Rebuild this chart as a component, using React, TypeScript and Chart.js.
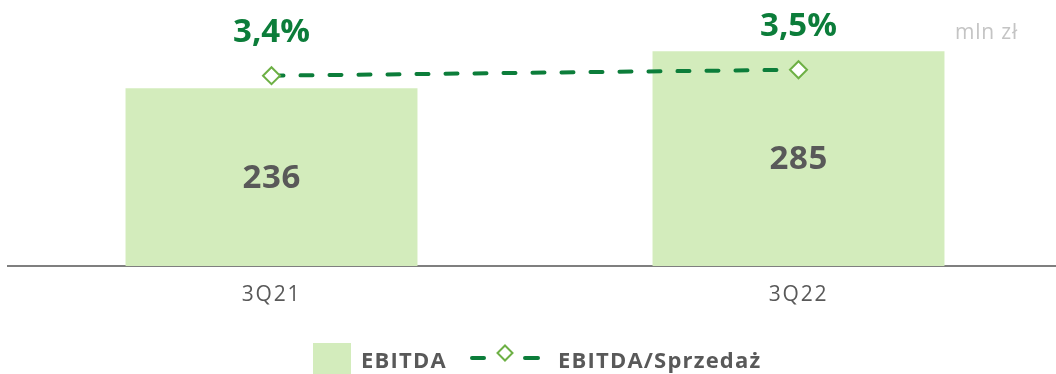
import React, { useEffect, useRef } from "react";
import { Chart, registerables } from "chart.js";

Chart.register(...registerables);

// Quarterly EBITDA (mln zł) and EBITDA margin on sales (%)
const categories: string[] = ["3Q21", "3Q22"];
const ebitdaValues: number[] = [236, 285];
const marginValues: number[] = [3.4, 3.5];
const marginLabels: string[] = ["3,4%", "3,5%"];

const BAR_GREEN = "#D3ECBC";
const DARK_GREEN = "#0C7D3A";
const MARKER_GREEN = "#6DB045";
const TEXT_GRAY = "#595959";
const FONT = "'Open Sans', 'Noto Sans', sans-serif";

// draws text with given letter spacing, centred on the visible glyphs
function spacedText(ctx: any, text: string, x: number, y: number, spacing: number, align: string) {
  ctx.letterSpacing = `${spacing}px`;
  ctx.textAlign = align;
  const shift = align === "center" ? spacing / 2 : 0;
  ctx.fillText(text, x + shift, y);
  ctx.letterSpacing = "0px";
}

const overlayPlugin = {
  id: "overlayLabels",
  beforeDraw(chart: any) {
    // slightly wider tracking for the category tick labels
    chart.ctx.letterSpacing = "1.8px";
  },
  afterDatasetsDraw(chart: any) {
    const ctx = chart.ctx;
    ctx.save();
    ctx.textBaseline = "middle";

    // value inside each bar
    const barMeta = chart.getDatasetMeta(0);
    ctx.font = `bold 33px ${FONT}`;
    ctx.fillStyle = TEXT_GRAY;
    barMeta.data.forEach((bar: any, i: number) => {
      const mid = (bar.y + bar.base) / 2;
      spacedText(ctx, String(ebitdaValues[i]), bar.x, mid + 1, 0.6, "center");
    });

    // margin labels above the markers
    const lineMeta = chart.getDatasetMeta(1);
    ctx.font = `bold 33px ${FONT}`;
    ctx.fillStyle = DARK_GREEN;
    lineMeta.data.forEach((pt: any, i: number) => {
      spacedText(ctx, marginLabels[i], pt.x, pt.y - 43, 0, "center");
    });

    // unit note
    ctx.font = `21px ${FONT}`;
    ctx.fillStyle = "#C4C4C4";
    spacedText(ctx, "mln zł", 955, 33, 0.8, "left");

    // legend
    const legendY = 362;
    ctx.fillStyle = BAR_GREEN;
    ctx.fillRect(313, 343, 38, 31);
    ctx.font = `bold 22px ${FONT}`;
    ctx.fillStyle = TEXT_GRAY;
    spacedText(ctx, "EBITDA", 361, legendY, 1.2, "left");

    ctx.strokeStyle = DARK_GREEN;
    ctx.lineWidth = 4;
    ctx.lineCap = "round";
    ctx.beginPath();
    ctx.moveTo(472, 358);
    ctx.lineTo(484, 358);
    ctx.moveTo(525, 358);
    ctx.lineTo(538, 358);
    ctx.stroke();

    ctx.beginPath();
    const cx = 505, cy = 353, r = 7.5;
    ctx.moveTo(cx, cy - r);
    ctx.lineTo(cx + r, cy);
    ctx.lineTo(cx, cy + r);
    ctx.lineTo(cx - r, cy);
    ctx.closePath();
    ctx.fillStyle = "#ffffff";
    ctx.fill();
    ctx.strokeStyle = MARKER_GREEN;
    ctx.lineWidth = 2;
    ctx.lineCap = "butt";
    ctx.stroke();

    ctx.fillStyle = TEXT_GRAY;
    spacedText(ctx, "EBITDA/Sprzedaż", 558, legendY, 1.2, "left");

    ctx.restore();
  },
  afterDraw(chart: any) {
    chart.ctx.letterSpacing = "0px";
  },
};

export default function App() {
  const canvasRef = useRef<HTMLCanvasElement | null>(null);

  useEffect(() => {
    if (!canvasRef.current) return;
    const chart = new Chart(canvasRef.current, {
      type: "bar",
      data: {
        labels: categories,
        datasets: [
          {
            type: "bar",
            label: "EBITDA",
            data: ebitdaValues,
            backgroundColor: BAR_GREEN,
            borderWidth: 0,
            categoryPercentage: 1,
            barPercentage: 0.554,
            yAxisID: "y",
            order: 2,
          },
          {
            type: "line",
            label: "EBITDA/Sprzedaż",
            data: marginValues,
            borderColor: DARK_GREEN,
            borderWidth: 4,
            borderDash: [12, 17],
            borderCapStyle: "round",
            pointStyle: "rectRot",
            pointRadius: 8.5,
            pointBorderWidth: 2,
            pointBorderColor: MARKER_GREEN,
            pointBackgroundColor: "#ffffff",
            yAxisID: "y1",
            order: 1,
          },
        ] as any,
      },
      options: {
        animation: false,
        responsive: false,
        maintainAspectRatio: false,
        layout: { autoPadding: false, padding: { left: 8, top: 40, right: 0, bottom: 0 } },
        plugins: {
          legend: { display: false },
          tooltip: { enabled: false },
        },
        scales: {
          x: {
            grid: { display: false },
            border: { display: true, color: "#7F7F7F", width: 2 },
            ticks: {
              color: TEXT_GRAY,
              font: { family: FONT, size: 21 },
              padding: 8,
            },
            afterFit: (scale: any) => {
              scale.height = 108;
            },
          },
          y: { display: false, min: 0, max: 300 },
          y1: { display: false, min: 0.2, max: 4.0 },
        },
      } as any,
      plugins: [overlayPlugin],
    });
    return () => chart.destroy();
  }, []);

  return (
    <div
      style={{
        position: "absolute",
        left: 0,
        top: 0,
        width: 1056,
        height: 374,
        overflow: "hidden",
        background: "#ffffff",
      }}
    >
      <canvas ref={canvasRef} width={1062} height={374} style={{ display: "block" }} />
    </div>
  );
}
